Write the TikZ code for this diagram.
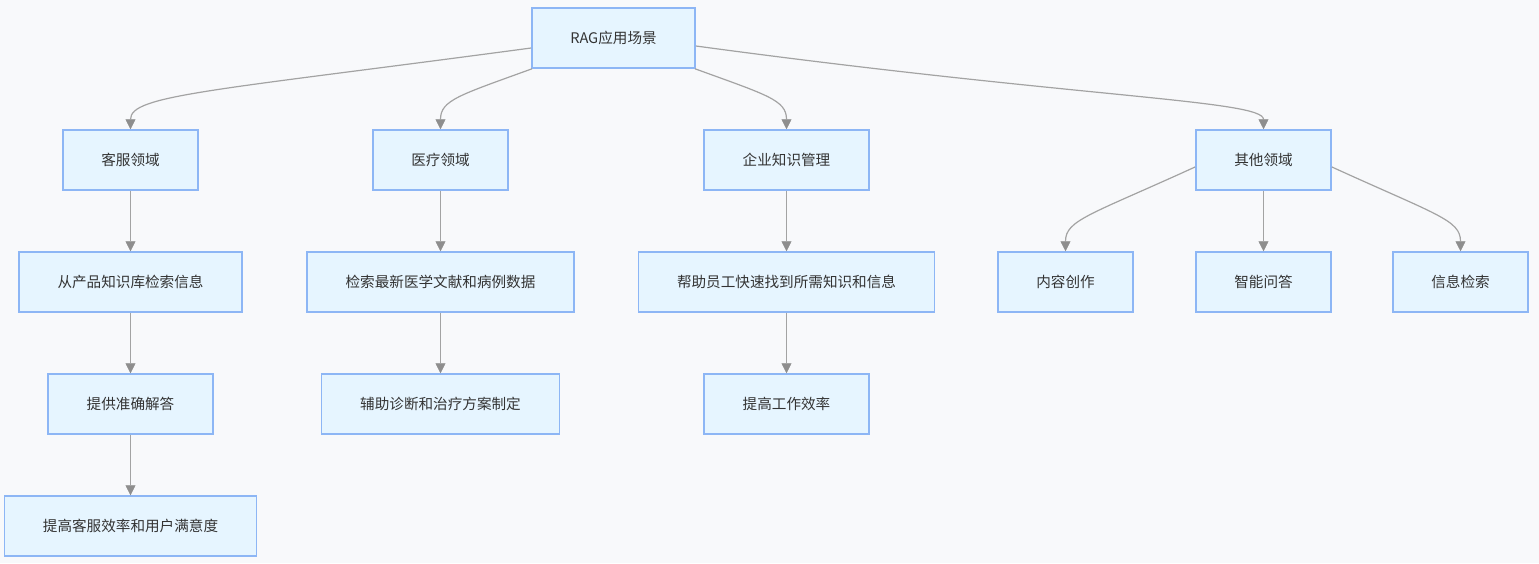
\documentclass[tikz,border=0pt]{standalone}
\usepackage{fontspec}
\setmainfont{Noto Sans CJK SC}
\usetikzlibrary{arrows.meta}
\definecolor{bgc}{HTML}{F8F9FB}
\definecolor{boxfill}{HTML}{E6F5FF}
\definecolor{boxline}{HTML}{8DB6F5}
\definecolor{edgec}{HTML}{A3A3A3}
\definecolor{tipc}{HTML}{8E8E8E}
\definecolor{txt}{HTML}{333333}
\tikzset{
  box/.style={draw=boxline, line width=1.5pt, fill=boxfill, minimum height=60pt,
    inner xsep=38.5pt, inner ysep=0pt, text=txt, font=\fontsize{14.6}{17}\selectfont},
  arr/.style={draw=edgec, line width=1.2pt,
    -{Triangle[width=10pt,length=10pt,color=tipc,fill=tipc,line width=0.5pt]}}
}
\begin{document}
\begin{tikzpicture}[x=1pt,y=-1pt]
\fill[bgc] (0,0) rectangle (1539,563);
\useasboundingbox (0,0) rectangle (1539,563);

\node[box] (rag) at (613.5,38) {RAG应用场景};

\node[box] (kf) at (130.5,160) {客服领域};
\node[box] (yl) at (440.5,160) {医疗领域};
\node[box] (qy) at (786.5,160) {企业知识管理};
\node[box] (qt) at (1263.5,160) {其他领域};

\node[box] (kf1) at (130.5,282) {从产品知识库检索信息};
\node[box] (yl1) at (440.5,282) {检索最新医学文献和病例数据};
\node[box] (qy1) at (786.5,282) {帮助员工快速找到所需知识和信息};
\node[box] (qt1) at (1065.5,282) {内容创作};
\node[box] (qt2) at (1263.5,282) {智能问答};
\node[box] (qt3) at (1460.5,282) {信息检索};

\node[box] (kf2) at (130.5,404) {提供准确解答};
\node[box] (yl2) at (440.5,404) {辅助诊断和治疗方案制定};
\node[box] (qy2) at (786.5,404) {提高工作效率};

\node[box] (kf3) at (130.5,526) {提高客服效率和用户满意度};

% top-level curves
\draw[arr] ([yshift=-10pt]rag.west) .. controls (210,91) and (130.5,95) .. (kf.north);
\draw[arr] ([xshift=1pt]rag.south west) .. controls (460,95) and (440.5,100) .. (yl.north);
\draw[arr] ([xshift=-1pt]rag.south east) .. controls (767,95) and (786.5,100) .. (qy.north);
\draw[arr] ([yshift=-8pt]rag.east) .. controls (1080,98) and (1263.5,100) .. (qt.north);

% verticals
\draw[arr] (kf) -- (kf1);
\draw[arr] (kf1) -- (kf2);
\draw[arr] (kf2) -- (kf3);
\draw[arr] (yl) -- (yl1);
\draw[arr] (yl1) -- (yl2);
\draw[arr] (qy) -- (qy1);
\draw[arr] (qy1) -- (qy2);
\draw[arr] (qt) -- (qt2);

% other branches
\draw[arr] ([yshift=-7pt]qt.west) .. controls (1090,215) and (1065.5,220) .. (qt1.north);
\draw[arr] ([yshift=-7pt]qt.east) .. controls (1437,215) and (1460.5,220) .. (qt3.north);
\end{tikzpicture}
\end{document}
